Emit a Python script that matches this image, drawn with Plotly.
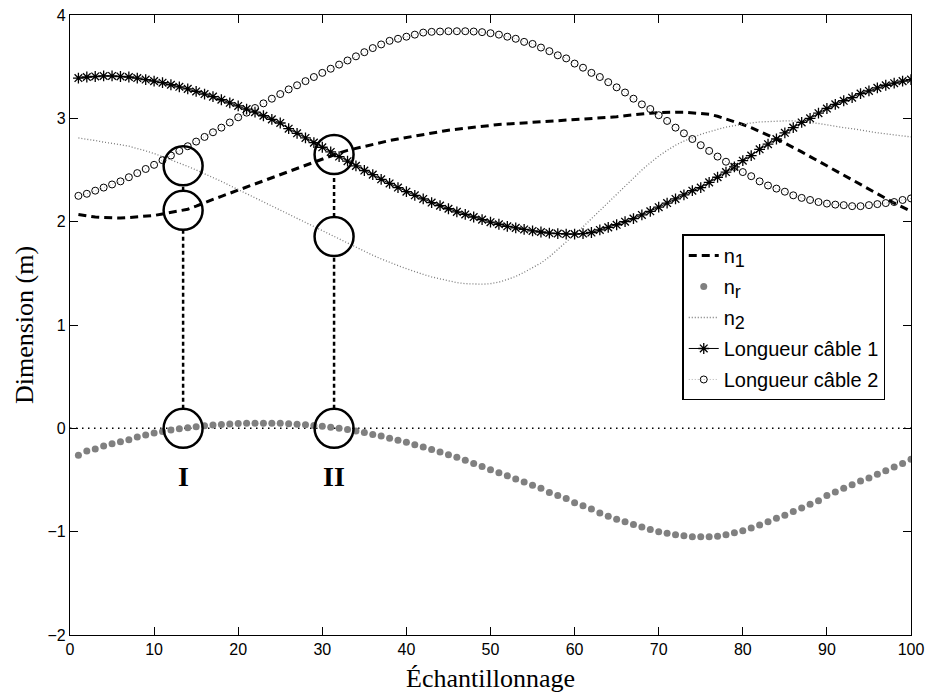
import plotly.graph_objects as go

# ---------------- data ----------------
x = list(range(1, 101))

n1 = [2.07, 2.055, 2.045, 2.04, 2.035, 2.035, 2.04, 2.045, 2.05, 2.06,
      2.075, 2.09, 2.105, 2.12, 2.15, 2.185, 2.215, 2.245, 2.275, 2.305,
      2.335, 2.365, 2.395, 2.43, 2.46, 2.49, 2.52, 2.55, 2.58, 2.61,
      2.64, 2.665, 2.69, 2.71, 2.73, 2.75, 2.77, 2.785, 2.80, 2.815,
      2.83, 2.845, 2.86, 2.87, 2.885, 2.895, 2.905, 2.915, 2.925, 2.93,
      2.94, 2.945, 2.95, 2.955, 2.96, 2.965, 2.97, 2.975, 2.98, 2.985,
      2.99, 2.995, 3.0, 3.005, 3.015, 3.025, 3.035, 3.045, 3.05, 3.055,
      3.06, 3.06, 3.06, 3.055, 3.05, 3.04, 3.02, 2.995, 2.97, 2.94,
      2.91, 2.875, 2.84, 2.80, 2.76, 2.72, 2.675, 2.63, 2.585, 2.54,
      2.49, 2.445, 2.40, 2.355, 2.31, 2.265, 2.22, 2.18, 2.14, 2.10]

nr = [-0.26, -0.22, -0.20, -0.17, -0.15, -0.13, -0.11, -0.085, -0.065, -0.045,
      -0.03, -0.016, -0.005, 0.005, 0.015, 0.025, 0.032, 0.038, 0.043, 0.046,
      0.048, 0.05, 0.05, 0.05, 0.048, 0.045, 0.04, 0.035, 0.028, 0.02,
      0.01, 0.0, -0.012, -0.025, -0.04, -0.06, -0.075, -0.095, -0.115, -0.135,
      -0.16, -0.18, -0.205, -0.23, -0.255, -0.28, -0.31, -0.34, -0.37, -0.40,
      -0.43, -0.46, -0.49, -0.52, -0.55, -0.58, -0.62, -0.65, -0.68, -0.72,
      -0.75, -0.78, -0.82, -0.85, -0.88, -0.905, -0.93, -0.955, -0.98, -1.0,
      -1.015, -1.03, -1.04, -1.048, -1.05, -1.05, -1.045, -1.03, -1.01, -0.99,
      -0.965, -0.935, -0.905, -0.87, -0.84, -0.805, -0.77, -0.735, -0.70, -0.65,
      -0.615, -0.58, -0.545, -0.51, -0.48, -0.445, -0.41, -0.375, -0.34, -0.30]

n2 = [2.81, 2.80, 2.785, 2.77, 2.76, 2.745, 2.73, 2.71, 2.685, 2.66,
      2.63, 2.60, 2.57, 2.535, 2.50, 2.465, 2.43, 2.39, 2.35, 2.31,
      2.27, 2.23, 2.19, 2.15, 2.11, 2.07, 2.03, 1.99, 1.95, 1.91,
      1.87, 1.83, 1.79, 1.75, 1.71, 1.675, 1.64, 1.605, 1.575, 1.545,
      1.515, 1.49, 1.465, 1.445, 1.425, 1.41, 1.40, 1.395, 1.395, 1.40,
      1.415, 1.44, 1.47, 1.51, 1.555, 1.60, 1.66, 1.73, 1.80, 1.875,
      1.95, 2.03, 2.11, 2.19, 2.27, 2.35, 2.425, 2.50, 2.57, 2.635,
      2.69, 2.74, 2.78, 2.815, 2.845, 2.87, 2.895, 2.915, 2.93, 2.945,
      2.955, 2.965, 2.97, 2.975, 2.975, 2.975, 2.97, 2.96, 2.95, 2.935,
      2.925, 2.91, 2.90, 2.885, 2.875, 2.86, 2.85, 2.84, 2.83, 2.82]

cable1 = [3.39, 3.40, 3.405, 3.41, 3.41, 3.405, 3.40, 3.39, 3.375, 3.36,
          3.345, 3.325, 3.305, 3.285, 3.26, 3.235, 3.21, 3.18, 3.15, 3.12,
          3.09, 3.06, 3.025, 2.99, 2.955, 2.90, 2.855, 2.81, 2.765, 2.72,
          2.675, 2.63, 2.585, 2.54, 2.495, 2.455, 2.41, 2.37, 2.33, 2.29,
          2.255, 2.22, 2.185, 2.155, 2.125, 2.095, 2.07, 2.045, 2.02, 1.995,
          1.975, 1.955, 1.94, 1.925, 1.91, 1.90, 1.89, 1.885, 1.88, 1.88,
          1.885, 1.895, 1.92, 1.945, 1.97, 2.0, 2.03, 2.065, 2.10, 2.14,
          2.18, 2.22, 2.26, 2.30, 2.33, 2.38, 2.43, 2.48, 2.53, 2.59,
          2.64, 2.70, 2.75, 2.80, 2.86, 2.91, 2.96, 3.00, 3.05, 3.095,
          3.135, 3.17, 3.20, 3.24, 3.265, 3.295, 3.32, 3.34, 3.36, 3.375]

cable2 = [2.25, 2.27, 2.30, 2.33, 2.36, 2.39, 2.43, 2.47, 2.51, 2.55,
          2.595, 2.64, 2.685, 2.73, 2.775, 2.82, 2.865, 2.91, 2.96, 3.01,
          3.055, 3.10, 3.145, 3.19, 3.235, 3.28, 3.32, 3.36, 3.40, 3.44,
          3.48, 3.52, 3.56, 3.60, 3.64, 3.68, 3.715, 3.75, 3.77, 3.79,
          3.81, 3.83, 3.837, 3.84, 3.843, 3.843, 3.843, 3.84, 3.834, 3.824,
          3.81, 3.79, 3.77, 3.74, 3.72, 3.685, 3.65, 3.61, 3.58, 3.53,
          3.49, 3.44, 3.40, 3.35, 3.30, 3.25, 3.19, 3.135, 3.09, 3.03,
          2.975, 2.91, 2.855, 2.80, 2.74, 2.685, 2.63, 2.58, 2.53, 2.48,
          2.44, 2.39, 2.35, 2.32, 2.29, 2.255, 2.23, 2.21, 2.19, 2.175,
          2.165, 2.16, 2.15, 2.15, 2.16, 2.17, 2.18, 2.19, 2.21, 2.225]

# annotated events (I, II) and the values circled at each of them
event_x = [13.45, 31.4]
event_labels = ["I", "II"]
event_circles = [[0.0, 2.11, 2.54],
                 [0.0, 1.856, 2.65]]
label_y = -0.47

x_range = [0, 100]
y_range = [-2, 4]
x_ticks = list(range(0, 101, 10))
y_ticks = [-2, -1, 0, 1, 2, 3, 4]

# ---------------- figure ----------------
W, H = 933, 698
margin = dict(l=70, r=22, t=15, b=63)
plot_h = H - margin["t"] - margin["b"]
circle_size = 39
r_y = (circle_size / 2) * (y_range[1] - y_range[0]) / plot_h

LEG = 20


def sub(base, s):
    return "%s<sub><span style='font-size:%dpx'>%s</span></sub>" % (base, LEG - 2, s)


fig = go.Figure()

# zero reference line
fig.add_trace(go.Scatter(x=x_range, y=[0, 0], mode="lines",
                         line=dict(color="black", width=1.5, dash="1.5px,4.5px"),
                         showlegend=False, hoverinfo="skip"))

# vertical dashed connectors between circles
for ex, cys in zip(event_x, event_circles):
    for a, b in zip(cys[:-1], cys[1:]):
        fig.add_trace(go.Scatter(x=[ex, ex], y=[a + r_y, b - r_y], mode="lines",
                                 line=dict(color="black", width=2.5, dash="4px,3px"),
                                 showlegend=False, hoverinfo="skip"))

fig.add_trace(go.Scatter(x=x, y=n1, mode="lines", name=sub("n", "1"), legendgroup="a",
                         line=dict(color="black", width=3, dash="8px,5px")))
fig.add_trace(go.Scatter(x=x, y=nr, mode="markers", name=sub("n", "r"), legendgroup="b",
                         marker=dict(color="#808080", size=7, symbol="circle")))
fig.add_trace(go.Scatter(x=x, y=n2, mode="lines", name=sub("n", "2"), legendgroup="c",
                         line=dict(color="#7a7a7a", width=1.3, dash="1px,2px")))
fig.add_trace(go.Scatter(x=x, y=cable1, mode="lines+markers", name="Longueur câble 1",
                         legendgroup="d",
                         line=dict(color="black", width=1),
                         marker=dict(symbol="asterisk-open", size=9, color="black",
                                     line=dict(color="black", width=1.3))))
fig.add_trace(go.Scatter(x=x, y=cable2, mode="lines+markers", name="Longueur câble 2",
                         legendgroup="e",
                         line=dict(color="#a0a0a0", width=0.8, dash="1px,2px"),
                         marker=dict(symbol="circle-open", size=7, color="black",
                                     line=dict(color="black", width=1))))

# circles marking the events
for ex, cys in zip(event_x, event_circles):
    fig.add_trace(go.Scatter(x=[ex] * len(cys), y=cys, mode="markers",
                             marker=dict(symbol="circle-open", size=circle_size,
                                         color="black", line=dict(color="black", width=2.5)),
                             showlegend=False, hoverinfo="skip"))

for ex, lab in zip(event_x, event_labels):
    fig.add_annotation(x=ex, y=label_y, text="<b>%s</b>" % lab, showarrow=False,
                       font=dict(family="Liberation Serif", size=28, color="black"))

axis_common = dict(showgrid=False, zeroline=False, showline=True, linecolor="black",
                   linewidth=1.3, mirror="ticks", ticks="inside", ticklen=8,
                   tickcolor="black", tickwidth=1, automargin=False,
                   tickfont=dict(family="Liberation Sans", size=16, color="black"))

fig.update_xaxes(range=x_range, tickvals=x_ticks,
                 title=dict(text="Échantillonnage", standoff=11,
                            font=dict(family="Liberation Serif", size=26, color="black")),
                 **axis_common)
fig.update_yaxes(range=y_range, tickvals=y_ticks,
                 title=dict(text="Dimension (m)", standoff=6,
                            font=dict(family="Liberation Serif", size=26, color="black")),
                 **axis_common)

fig.update_layout(
    width=W, height=H, margin=margin,
    paper_bgcolor="white", plot_bgcolor="white",
    legend=dict(x=0.728, y=0.646, xanchor="left", yanchor="top",
                bordercolor="black", borderwidth=1.5, bgcolor="white",
                font=dict(family="Liberation Sans", size=LEG, color="black"),
                tracegroupgap=2, itemwidth=30),
)

fig.write_html("out.html")
